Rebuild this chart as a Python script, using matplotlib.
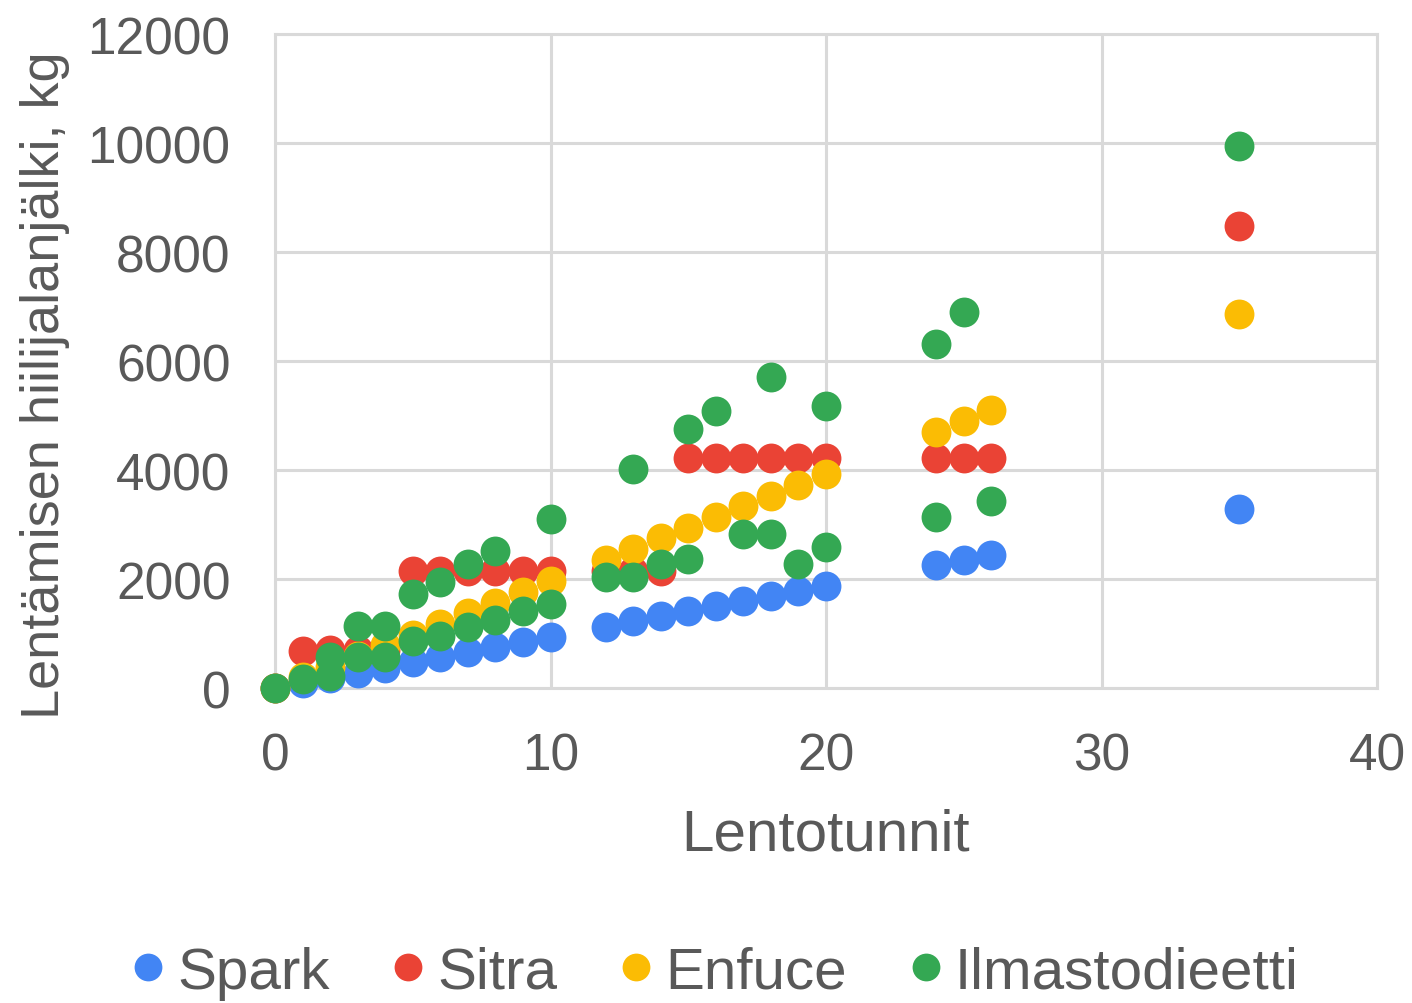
import matplotlib.pyplot as plt
from matplotlib.lines import Line2D

plt.rcParams['font.family'] = ['Liberation Sans', 'DejaVu Sans']

# Spark
spark_x = [0, 1, 2, 3, 4, 5, 6, 7, 8, 9, 10, 12, 13, 14, 15, 16, 17, 18, 19, 20, 24, 25, 26, 35]
spark_y = [0, 94, 188, 282, 376, 470, 564, 658, 752, 846, 940, 1128, 1222, 1316, 1410, 1504,
           1598, 1692, 1786, 1880, 2256, 2350, 2444, 3290]

# Sitra
sitra_x = [0, 1, 2, 3, 4, 5, 6, 7, 8, 9, 10, 12, 13, 14, 15, 16, 17, 18, 19, 20, 24, 25, 26, 35]
sitra_y = [0, 680, 700, 700, 700, 2150, 2150, 2150, 2150, 2150, 2150, 2150, 2150, 2150,
           4230, 4230, 4230, 4230, 4230, 4230, 4230, 4230, 4230, 8480]

# Enfuce
enfuce_x = [0, 1, 2, 3, 4, 5, 6, 7, 8, 9, 10, 12, 13, 14, 15, 16, 17, 18, 19, 20, 24, 25, 26, 35]
enfuce_y = [0, 196, 392, 588, 784, 980, 1176, 1372, 1568, 1764, 1960, 2352, 2548, 2744, 2940,
            3136, 3332, 3528, 3724, 3920, 4704, 4900, 5096, 6860]

# Ilmastodieetti
ilmasto_x = [0, 1, 2, 2, 3, 3, 4, 4, 5, 5, 6, 6, 7, 7, 8, 8, 9, 10, 10, 12, 13, 13, 14,
             15, 15, 16, 17, 18, 18, 19, 20, 20, 24, 24, 25, 26, 35]
ilmasto_y = [0, 165, 570, 220, 1140, 570, 1140, 570, 1725, 870, 1945, 955, 2275, 1120,
             2515, 1250, 1420, 3100, 1540, 2035, 4020, 2035, 2275, 4750, 2370, 5080, 2825,
             5700, 2825, 2275, 5175, 2590, 6310, 3140, 6900, 3430, 9950]

series = [
    ("Spark", spark_x, spark_y, "#4285F4"),
    ("Sitra", sitra_x, sitra_y, "#EA4335"),
    ("Enfuce", enfuce_x, enfuce_y, "#FBBC04"),
    ("Ilmastodieetti", ilmasto_x, ilmasto_y, "#34A853"),
]

text_color = "#595959"
grid_color = "#d9d9d9"

fig = plt.figure(figsize=(14.12, 10.04), dpi=100)
ax = fig.add_axes([0.1948, 0.3137, 0.7804, 0.6514])

for name, xs, ys, col in series:
    ax.plot(xs, ys, linestyle="none", marker="o", markersize=21.5,
            color=col, markeredgewidth=0, clip_on=False, zorder=3)

ax.set_xlim(0, 40)
ax.set_ylim(0, 12000)
ax.set_xticks([0, 10, 20, 30, 40])
ax.set_yticks(range(0, 12001, 2000))
ax.grid(True, color=grid_color, linewidth=2.2)
ax.set_axisbelow(True)
for sp in ax.spines.values():
    sp.set_color(grid_color)
    sp.set_linewidth(2.2)
ax.tick_params(length=0, labelsize=37, labelcolor=text_color)
ax.tick_params(axis="x", pad=31)
ax.tick_params(axis="y", pad=32)

ax.set_xlabel("Lentotunnit", fontsize=42, color=text_color, labelpad=20)
ax.set_ylabel("Lentämisen hiilijalanjälki, kg", fontsize=39, color=text_color)
ax.yaxis.set_label_coords(-0.186, 0.465)

handles = [Line2D([], [], linestyle="none", marker="o", markersize=20,
                  color=col, markeredgewidth=0) for _, _, _, col in series]
labels = [s[0] for s in series]
fig.legend(handles, labels, loc="center", bbox_to_anchor=(0.504, 0.03), ncol=4,
           frameon=False, fontsize=42, labelcolor=text_color, handletextpad=0.1,
           columnspacing=0.95, handlelength=0.8)

fig.savefig("out.png", dpi=100)
